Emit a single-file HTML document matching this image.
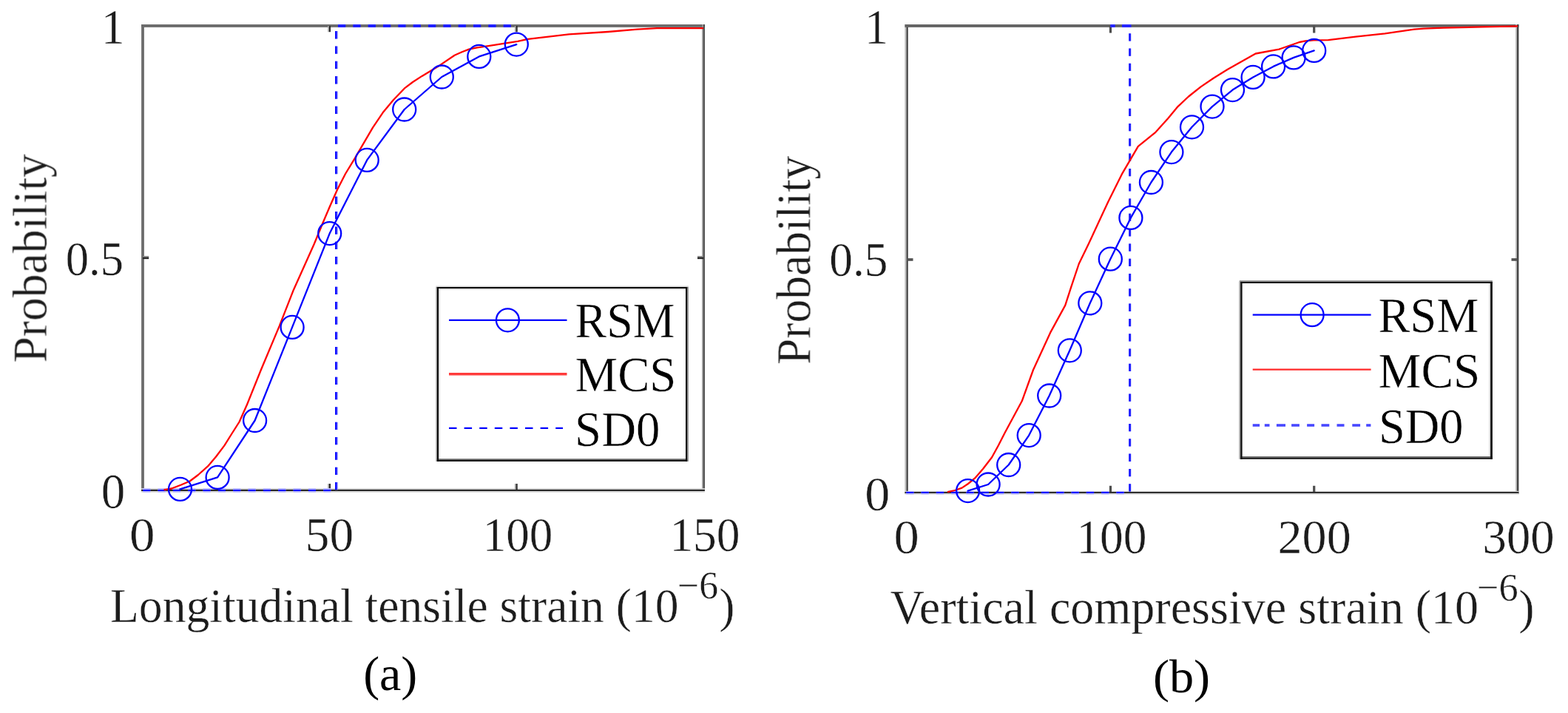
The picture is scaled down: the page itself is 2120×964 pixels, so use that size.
<!DOCTYPE html>
<html lang="en"><head><meta charset="utf-8"><title>Probability of strain: RSM vs MCS</title>
<style>
html,body{margin:0;padding:0;background:#fff;}
body{width:2120px;height:964px;overflow:hidden;}
svg{display:block;}
.k text{fill:#000;}
.soft{filter:blur(0.6px);}
text{font-family:"Liberation Serif", serif;fill:#1c1c1c;stroke:#fff;stroke-width:0.4px;}
</style></head><body>
<svg width="2120" height="964" viewBox="0 0 2120 964">
<rect width="2120" height="964" fill="#ffffff"/>
<g class="soft">
<g>
<rect x="191.10" y="33.00" width="3.80" height="631.00" fill="#6c6c6c" />
<rect x="191.10" y="33.00" width="761.80" height="3.90" fill="#6c6c6c" />
<rect x="949.20" y="33.00" width="1.90" height="631.00" fill="#949494" />
<rect x="951.00" y="33.00" width="1.90" height="631.00" fill="#4a4a4a" />
<rect x="191.10" y="660.20" width="761.80" height="5.60" fill="#d6d6d6" />
<rect x="191.10" y="661.90" width="761.80" height="2.00" fill="#1e1e1e" />
<rect x="443.20" y="35.00" width="1.60" height="8.20" fill="#adadad" />
<rect x="444.80" y="35.00" width="2.20" height="8.20" fill="#2c2c2c" />
<rect x="443.20" y="654.00" width="1.60" height="8.00" fill="#adadad" />
<rect x="444.80" y="654.00" width="2.20" height="8.00" fill="#2c2c2c" />
<rect x="695.90" y="35.00" width="1.60" height="8.20" fill="#adadad" />
<rect x="697.50" y="35.00" width="2.20" height="8.20" fill="#2c2c2c" />
<rect x="695.90" y="654.00" width="1.60" height="8.00" fill="#adadad" />
<rect x="697.50" y="654.00" width="2.20" height="8.00" fill="#2c2c2c" />
<rect x="193.00" y="346.10" width="8.20" height="1.80" fill="#8c8c8c" />
<rect x="193.00" y="347.80" width="8.20" height="2.40" fill="#262626" />
<rect x="943.00" y="346.10" width="8.00" height="1.80" fill="#8c8c8c" />
<rect x="943.00" y="347.80" width="8.00" height="2.40" fill="#262626" />
</g>
<g>
<polyline points="193.2,662.9 447.4,662.9" fill="none" stroke="#b9b9ff" stroke-width="5.6" stroke-linejoin="round" stroke-dasharray="10.1 10.24" stroke-dashoffset="0"/>
<polyline points="193.2,662.9 447.4,662.9" fill="none" stroke="#0000ff" stroke-width="2.0" stroke-linejoin="round" stroke-dasharray="10.1 10.24" stroke-dashoffset="0"/>
<polyline points="455.0,662.3 455.0,36.9" fill="none" stroke="#9a9aff" stroke-width="3.8" stroke-linejoin="round" stroke-dasharray="10.3 10.03" stroke-dashoffset="0"/>
<polyline points="454.3,662.3 454.3,36.9" fill="none" stroke="#0000ff" stroke-width="2.3" stroke-linejoin="round" stroke-dasharray="10.3 10.03" stroke-dashoffset="0"/>
<polyline points="457.0,35.0 698.3,35.0" fill="none" stroke="#2020ff" stroke-width="3.9" stroke-linejoin="round" stroke-dasharray="10.3 10.03" stroke-dashoffset="0"/>
</g>
<polyline points="221.5,662.4 232.0,660.5 245.0,655.5 256.7,650.5 268.0,642.0 281.0,630.4 292.0,617.5 303.4,602.4 313.0,587.0 323.5,570.5 334.0,547.0 352.9,500.0 377.6,441.1 397.0,391.7 424.7,330.0 436.0,302.5 446.0,279.0 456.0,256.5 467.0,235.0 479.4,214.7 504.1,172.3 517.6,152.3 532.0,135.0 547.6,118.8 558.0,111.0 570.5,102.9 595.2,87.9 614.6,74.7 624.0,70.5 634.0,66.7 645.0,64.3 658.7,62.3 700.0,55.8 713.8,52.8 769.2,46.3 822.1,43.0 861.7,39.7 875.0,38.8 888.1,38.2 951.0,38.1" fill="none" stroke="#ff0000" stroke-width="2.3" stroke-linejoin="round" />
<polyline points="243.5,661.4 294.1,645.4 344.6,568.5 395.1,442.4 445.7,315.6 496.2,216.4 546.7,148.0 597.3,104.0 647.8,76.4 698.3,60.1" fill="none" stroke="#0000ff" stroke-width="2.3" stroke-linejoin="round" stroke-linecap="round"/>
<g fill="none" stroke="#0000ff" stroke-width="2.3">
<circle cx="243.5" cy="661.4" r="15.5"/>
<circle cx="294.1" cy="645.4" r="15.5"/>
<circle cx="344.6" cy="568.5" r="15.5"/>
<circle cx="395.1" cy="442.4" r="15.5"/>
<circle cx="445.7" cy="315.6" r="15.5"/>
<circle cx="496.2" cy="216.4" r="15.5"/>
<circle cx="546.7" cy="148.0" r="15.5"/>
<circle cx="597.3" cy="104.0" r="15.5"/>
<circle cx="647.8" cy="76.4" r="15.5"/>
<circle cx="698.3" cy="60.1" r="15.5"/>
</g>
<g>
<text transform="matrix(1.0789 0 0 1.0208 174.94 745.05)" font-size="64">0</text>
<text transform="matrix(1.0208 0 0 1.0208 412.78 745.05)" font-size="64">50</text>
<text transform="matrix(0.9864 0 0 1.0208 652.63 745.15)" font-size="64">100</text>
<text transform="matrix(0.9909 0 0 1.0208 905.41 745.15)" font-size="64">150</text>
<text transform="matrix(1.0000 0 0 1.0606 136.66 58.50)" font-size="64">1</text>
<text transform="matrix(0.9789 0 0 1.0363 88.74 372.46)" font-size="64">0.5</text>
<text transform="matrix(1.0156 0 0 1.0463 136.75 686.58)" font-size="64">0</text>
<text transform="matrix(0 -0.9928 1.0207 0 62.90 490.51)" font-size="64">Probability</text>
<text transform="matrix(0.9943 0 0 1.0139 148.99 840.50)" font-size="64">Longitudinal tensile strain (10<tspan x="771.45" y="-30.90" font-size="52.0">−6</tspan><tspan x="828.02" y="0">)</tspan></text>
</g>
<g>
<rect x="590.80" y="388.00" width="338.40" height="235.90" fill="#ffffff" />
<rect x="589.30" y="386.30" width="341.70" height="1.70" fill="#e0e0e0" />
<rect x="589.30" y="388.00" width="1.50" height="235.90" fill="#aaaaaa" />
<rect x="929.20" y="388.00" width="1.80" height="235.90" fill="#9a9a9a" />
<rect x="593.00" y="390.00" width="334.00" height="1.50" fill="#d0d0d0" />
<rect x="593.00" y="390.00" width="1.90" height="230.20" fill="#dedede" />
<rect x="590.80" y="620.20" width="338.40" height="1.80" fill="#686868" />
<rect x="590.80" y="388.00" width="338.40" height="2.00" fill="#0a0a0a" />
<rect x="590.80" y="388.00" width="2.20" height="235.90" fill="#0a0a0a" />
<rect x="927.00" y="388.00" width="2.20" height="235.90" fill="#0e0e0e" />
<rect x="590.80" y="622.00" width="338.40" height="1.90" fill="#0e0e0e" />
<line x1="607" y1="432.8" x2="766.5" y2="432.8" stroke="#0000ff" stroke-width="2.3" />
<circle cx="686.4" cy="432.8" r="15.5" fill="none" stroke="#0000ff" stroke-width="2.3"/>
<line x1="607" y1="505.8" x2="766.5" y2="505.8" stroke="#ff3b3b" stroke-width="3.4" />
<line x1="607" y1="578.8" x2="761" y2="578.8" stroke="#0000ff" stroke-width="2.3" stroke-dasharray="10.5 10.1"/>
<g class="k">
<text transform="matrix(0.9983 0 0 1.0518 777.58 456.43)" font-size="64">RSM</text>
<text transform="matrix(1.0118 0 0 1.0424 777.56 529.23)" font-size="64">MCS</text>
<text transform="matrix(1.0131 0 0 1.0486 777.09 602.73)" font-size="64">SD0</text>
</g>
</g>
</g>
<text transform="matrix(1.0294 0 0 1.0122 491.14 932.60)" font-size="64" style="fill:#000;stroke:none">(a)</text>
<g class="soft">
<g>
<rect x="1223.20" y="33.00" width="1.40" height="635.00" fill="#c8c8c8" />
<rect x="1224.60" y="33.00" width="1.20" height="635.00" fill="#8c8c8c" />
<rect x="1225.80" y="33.00" width="1.90" height="635.00" fill="#3c3c3c" />
<rect x="1223.40" y="33.00" width="830.00" height="3.90" fill="#646464" />
<rect x="2049.20" y="33.00" width="1.80" height="635.00" fill="#b4b4b4" />
<rect x="2051.00" y="33.00" width="2.40" height="635.00" fill="#444444" />
<rect x="1223.40" y="663.90" width="830.00" height="4.70" fill="#d4d4d4" />
<rect x="1223.40" y="665.00" width="830.00" height="1.80" fill="#1e1e1e" />
<rect x="1499.85" y="35.00" width="3.20" height="9.50" fill="#4e4e4e" />
<rect x="1499.85" y="656.80" width="3.20" height="8.40" fill="#4e4e4e" />
<rect x="1775.10" y="35.00" width="3.20" height="9.50" fill="#4e4e4e" />
<rect x="1775.10" y="656.80" width="3.20" height="8.40" fill="#4e4e4e" />
<rect x="1226.00" y="349.20" width="8.50" height="3.60" fill="#525252" />
<rect x="2043.50" y="349.20" width="8.50" height="3.60" fill="#525252" />
</g>
<g>
<polyline points="1225.2,666.3 1521.1,666.3" fill="none" stroke="#b9b9ff" stroke-width="4.6" stroke-linejoin="round" stroke-dasharray="10.3 10.0" stroke-dashoffset="0"/>
<polyline points="1225.2,665.9 1521.1,665.9" fill="none" stroke="#0000ff" stroke-width="1.8" stroke-linejoin="round" stroke-dasharray="10.3 10.0" stroke-dashoffset="0"/>
<polyline points="1527.6,664.5 1527.6,45.0" fill="none" stroke="#a4a4ff" stroke-width="3.7" stroke-linejoin="round" stroke-dasharray="10.3 10.0" stroke-dashoffset="0"/>
<polyline points="1527.6,664.5 1527.6,45.0" fill="none" stroke="#0000ff" stroke-width="2.2" stroke-linejoin="round" stroke-dasharray="10.3 10.0" stroke-dashoffset="0"/>
<polyline points="1529.5,35.0 1501.2,35.0" fill="none" stroke="#2626ff" stroke-width="3.9" stroke-linejoin="round" stroke-dasharray="12.5 9.3" stroke-dashoffset="0"/>
</g>
<polyline points="1281.0,665.2 1291.0,663.0 1300.6,659.6 1309.0,654.0 1318.2,646.4 1329.0,634.0 1341.1,618.2 1350.0,602.0 1358.8,584.7 1381.7,542.3 1397.0,500.0 1420.0,449.9 1440.2,412.9 1448.2,388.2 1458.8,356.5 1471.7,330.0 1498.2,272.9 1517.6,234.1 1538.8,197.9 1561.7,179.4 1579.3,160.0 1591.7,144.9 1607.0,130.5 1623.5,117.4 1641.0,105.5 1659.5,94.1 1697.6,72.5 1729.3,66.6 1756.8,57.0 1765.0,55.3 1775.9,54.3 1795.8,54.2 1832.8,49.6 1872.5,45.4 1912.1,39.7 1925.0,38.6 1951.7,37.7 2004.5,36.4 2052.0,35.3" fill="none" stroke="#ff0000" stroke-width="2.3" stroke-linejoin="round" />
<polyline points="1308.6,663.6 1336.1,655.0 1363.7,628.5 1391.2,588.6 1418.7,535.0 1446.3,473.8 1473.8,409.8 1501.3,350.2 1528.9,294.4 1556.4,246.5 1583.9,205.6 1611.5,171.8 1639.0,144.1 1666.5,121.6 1694.1,104.4 1721.6,89.9 1749.1,77.9 1776.7,68.4" fill="none" stroke="#0000ff" stroke-width="2.3" stroke-linejoin="round" stroke-linecap="round"/>
<g fill="none" stroke="#0000ff" stroke-width="2.3">
<circle cx="1308.6" cy="663.6" r="15.5"/>
<circle cx="1336.1" cy="655.0" r="15.5"/>
<circle cx="1363.7" cy="628.5" r="15.5"/>
<circle cx="1391.2" cy="588.6" r="15.5"/>
<circle cx="1418.7" cy="535.0" r="15.5"/>
<circle cx="1446.3" cy="473.8" r="15.5"/>
<circle cx="1473.8" cy="409.8" r="15.5"/>
<circle cx="1501.3" cy="350.2" r="15.5"/>
<circle cx="1528.9" cy="294.4" r="15.5"/>
<circle cx="1556.4" cy="246.5" r="15.5"/>
<circle cx="1583.9" cy="205.6" r="15.5"/>
<circle cx="1611.5" cy="171.8" r="15.5"/>
<circle cx="1639.0" cy="144.1" r="15.5"/>
<circle cx="1666.5" cy="121.6" r="15.5"/>
<circle cx="1694.1" cy="104.4" r="15.5"/>
<circle cx="1721.6" cy="89.9" r="15.5"/>
<circle cx="1749.1" cy="77.9" r="15.5"/>
<circle cx="1776.7" cy="68.4" r="15.5"/>
</g>
<g>
<text transform="matrix(1.0714 0 0 1.0278 1208.56 748.34)" font-size="64">0</text>
<text transform="matrix(0.9909 0 0 1.0278 1455.41 748.34)" font-size="64">100</text>
<text transform="matrix(1.0336 0 0 1.0278 1727.52 748.34)" font-size="64">200</text>
<text transform="matrix(1.0117 0 0 1.0278 2004.56 748.34)" font-size="64">300</text>
<text transform="matrix(1.0000 0 0 1.0606 1169.06 58.50)" font-size="64">1</text>
<text transform="matrix(0.9909 0 0 1.0271 1121.21 373.26)" font-size="64">0.5</text>
<text transform="matrix(1.0640 0 0 1.0347 1169.13 689.89)" font-size="64">0</text>
<text transform="matrix(0 -0.9928 1.0117 0 1095.00 493.01)" font-size="64">Probability</text>
<text transform="matrix(1.0017 0 0 1.0094 1203.56 843.40)" font-size="64">Vertical compressive strain (10<tspan x="792.04" y="-30.84" font-size="52.3">−6</tspan><tspan x="848.30" y="0">)</tspan></text>
</g>
<g>
<rect x="1677.10" y="381.10" width="340.80" height="239.70" fill="#ffffff" />
<rect x="1675.80" y="379.20" width="342.10" height="1.90" fill="#8c8c8c" />
<rect x="1675.20" y="380.50" width="1.90" height="240.30" fill="#aaaaaa" />
<rect x="2013.20" y="383.00" width="1.90" height="234.00" fill="#dadada" />
<rect x="1677.10" y="617.00" width="340.80" height="1.90" fill="#686868" />
<rect x="1677.10" y="381.10" width="340.80" height="1.90" fill="#0c0c0c" />
<rect x="1677.10" y="381.10" width="2.50" height="239.70" fill="#161616" />
<rect x="2015.10" y="381.10" width="2.80" height="239.70" fill="#101010" />
<rect x="1677.10" y="618.90" width="340.80" height="1.90" fill="#141414" />
<line x1="1693.7" y1="425.7" x2="1853.6" y2="425.7" stroke="#0000ff" stroke-width="2.3" />
<circle cx="1774.1" cy="425.7" r="15.5" fill="none" stroke="#0000ff" stroke-width="2.3"/>
<line x1="1693.7" y1="499.7" x2="1853.6" y2="499.7" stroke="#ff2a2a" stroke-width="2.2" />
<line x1="1693.7" y1="575.0" x2="1853.6" y2="575.0" stroke="#4646ff" stroke-width="3.6" stroke-dasharray="9.4 6.7 6.7 9.4 12.1 8.1 10.8 10.2 10 9.4 10.8 10.2 10 10.8 10.8 8.1 6.2 100"/>
<g class="k">
<text transform="matrix(1.0044 0 0 1.0471 1863.57 449.23)" font-size="64">RSM</text>
<text transform="matrix(1.0179 0 0 1.0424 1863.55 524.03)" font-size="64">MCS</text>
<text transform="matrix(1.0075 0 0 1.0417 1863.91 599.03)" font-size="64">SD0</text>
</g>
</g>
</g>
<text transform="matrix(1.0349 0 0 1.0004 1558.92 935.60)" font-size="64" style="fill:#000;stroke:none">(b)</text>
</svg>
</body></html>
